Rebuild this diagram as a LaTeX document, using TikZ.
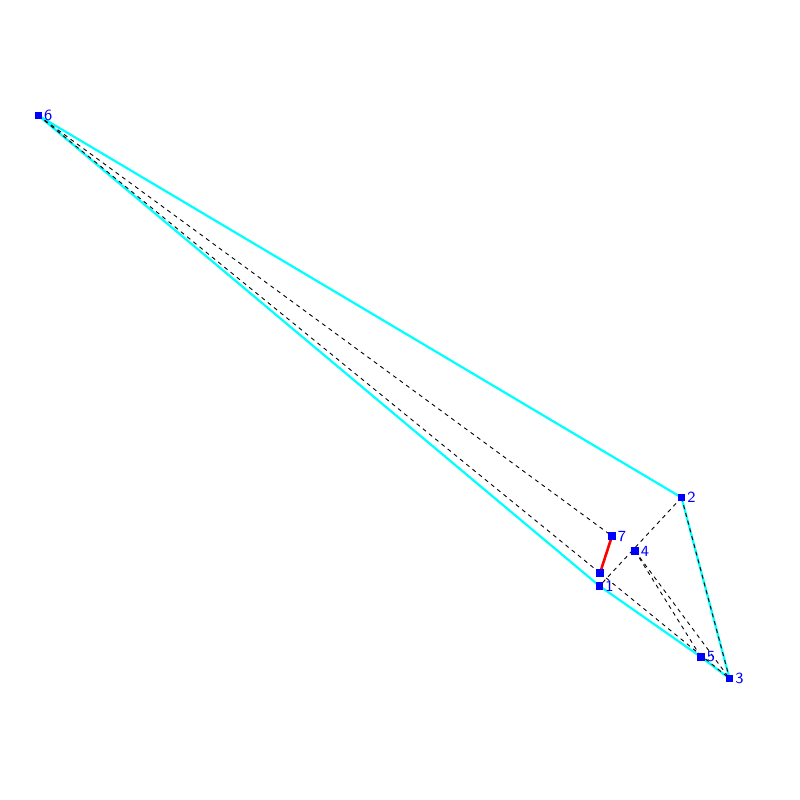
\documentclass[tikz,border=0pt]{standalone}
\usetikzlibrary{backgrounds}

\newlength{\du}
\setlength{\du}{0.01cm}

\definecolor{hullcolor}{rgb}{0.000000, 1.000000, 1.000000}
\definecolor{markcolor}{rgb}{0.000000, 0.000000, 1.000000}
\definecolor{cutcolor}{rgb}{1.000000, 0.000000, 0.000000}

\tikzset{
  vertex/.style={rectangle, fill=markcolor, inner sep=0pt, minimum size=7.5\du,
    label={[vlabel]0:#1}},
  vertex/.default={},
  vlabel/.style={text=markcolor, inner sep=0.6\du, font=\sffamily\fontsize{4.4}{5}\selectfont},
  hull/.style={draw=hullcolor, line width=2.2\du},
  diag/.style={draw=black, line width=0.9\du, dash pattern=on 4\du off 4\du},
  cut/.style={draw=cutcolor, line width=2.6\du}
}

\begin{document}
\begin{tikzpicture}
\pgftransformxscale{1.000000}
\pgftransformyscale{-1.000000}
\useasboundingbox (0\du,0\du) rectangle (800\du,800\du);
% points
\node[vertex=6] (p6) at (38.300000\du,115.500000\du) {};
\node[vertex=2] (p2) at (681.500000\du,497.500000\du) {};
\node[vertex=7] (p7) at (612.000000\du,536.000000\du) {};
\node[vertex=4] (p4) at (635.000000\du,551.000000\du) {};
\node[vertex] (p8) at (600.000000\du,573.000000\du) {};
\node[vertex=1] (p1) at (599.500000\du,586.000000\du) {};
\node[vertex=5] (p5) at (701.000000\du,657.000000\du) {};
\node[vertex=3] (p3) at (729.500000\du,678.500000\du) {};
\begin{pgfonlayer}{background}
% hull
\draw[hull] (p6.center)--(p2.center)--(p3.center)--(p5.center)--(p1.center)--cycle;
% diagonals
\draw[diag] (p6.center)--(p7.center);
\draw[diag] (p6.center)--(p8.center);
\draw[diag] (p2.center)--(p1.center);
\draw[diag] (p2.center)--(p3.center);
\draw[diag] (p8.center)--(p3.center);
\draw[diag] (p4.center)--(p5.center);
\draw[diag] (p4.center)--(p3.center);
% constraint
\draw[cut] (p7.center)--(p8.center);
\end{pgfonlayer}
\end{tikzpicture}
\end{document}
